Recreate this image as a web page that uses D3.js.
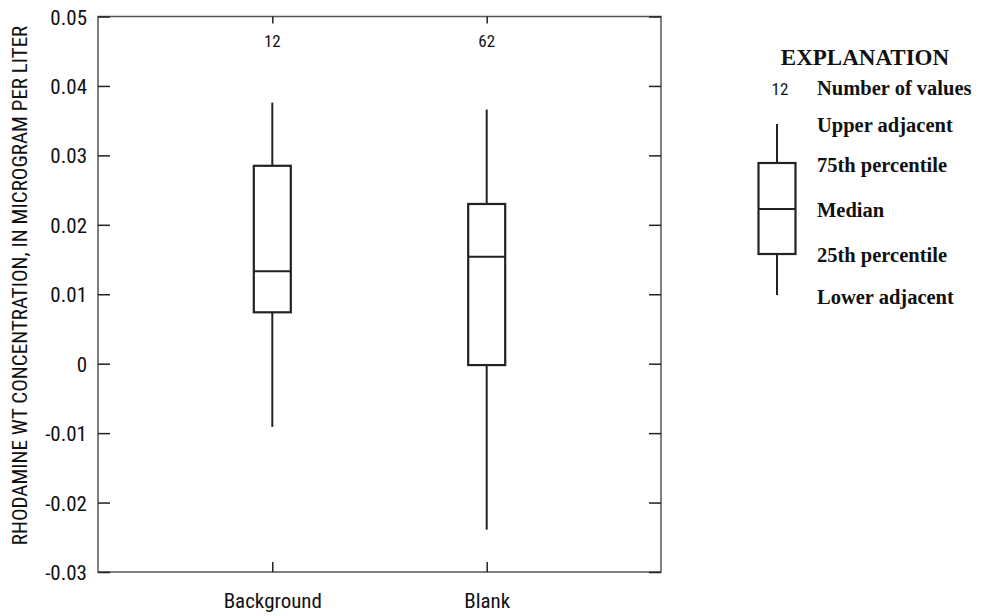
<!DOCTYPE html>
<html><head><meta charset="utf-8">
<script src="https://cdn.jsdelivr.net/npm/d3@7"></script>
<style>
body{margin:0;background:#fff;}
svg{display:block;}
.sans{font-family:"Liberation Sans Narrow","Arial Narrow","Roboto Condensed","Liberation Sans",sans-serif;}
.serif{font-family:"Liberation Serif","Times New Roman",serif;font-weight:bold;}
</style></head>
<body><svg id="c" width="982" height="616"></svg>
<script>
const categories = ["Background", "Blank"];
const counts = [12, 62];
const lowerAdj = [-0.0091, -0.0239];
const q1 = [0.0074, -0.0002];
const median = [0.0133, 0.0154];
const q3 = [0.0285, 0.0230];
const upperAdj = [0.0376, 0.0366];
const yTicks = [-0.03, -0.02, -0.01, 0, 0.01, 0.02, 0.03, 0.04, 0.05];
const yTickLabels = ["-0.03","-0.02","-0.01","0","0.01","0.02","0.03","0.04","0.05"];
const yTitle = "RHODAMINE WT CONCENTRATION, IN MICROGRAM PER LITER";
const legendTitle = "EXPLANATION";
const legendLabels = ["Number of values","Upper adjacent","75th percentile","Median","25th percentile","Lower adjacent"];

const svg = d3.select("#c");
const L = 98, R = 661, T = 16.5, B = 572;
const ink = "#222", frame = "#555";

const y = d3.scaleLinear().domain([-0.03, 0.05]).range([B, T]);
const x = d3.scalePoint().domain(categories).range([L, R]).padding(0.813);
const boxW = 37;

// frame
svg.append("rect").attr("x", L).attr("y", T).attr("width", R - L).attr("height", B - T)
  .attr("fill", "none").attr("stroke", frame).attr("stroke-width", 1.5);

// left axis
const yAxisL = d3.axisLeft(y).tickValues(yTicks).tickSize(-12)
  .tickFormat((d, i) => yTickLabels[i]);
const gL = svg.append("g").attr("transform", `translate(${L},0)`).call(yAxisL);
gL.select(".domain").remove();
gL.selectAll(".tick line").attr("stroke", ink).attr("stroke-width", 1.5);
gL.selectAll(".tick text").attr("class", "sans").attr("font-size", 21).attr("fill", "#111").attr("x", -11).attr("dy", "0.36em");

// right axis ticks
const gR = svg.append("g").attr("transform", `translate(${R},0)`)
  .call(d3.axisRight(y).tickValues(yTicks).tickSize(-12).tickFormat(""));
gR.select(".domain").remove();
gR.selectAll(".tick line").attr("stroke", ink).attr("stroke-width", 1.5);

// bottom axis
const gB = svg.append("g").attr("transform", `translate(0,${B})`)
  .call(d3.axisBottom(x).tickSize(-10));
gB.select(".domain").remove();
gB.selectAll(".tick line").attr("stroke", ink).attr("stroke-width", 1.5);
gB.selectAll(".tick text").attr("class", "sans").attr("font-size", 21).attr("fill", "#111")
  .attr("y", 36).attr("dy", 0);

// top axis ticks
const gT = svg.append("g").attr("transform", `translate(0,${T})`)
  .call(d3.axisTop(x).tickSize(-7).tickFormat(""));
gT.select(".domain").remove();
gT.selectAll(".tick line").attr("stroke", ink).attr("stroke-width", 1.5);

// y title
svg.append("text").attr("class", "sans").attr("font-size", 21).attr("fill", "#111")
  .attr("text-anchor", "middle")
  .attr("transform", `translate(27,285.5) rotate(-90)`)
  .text(yTitle);

// boxes
const data = categories.map((c, i) => ({c, n: counts[i], lo: lowerAdj[i], q1: q1[i], med: median[i], q3: q3[i], hi: upperAdj[i]}));
const g = svg.append("g").selectAll("g").data(data).join("g");
g.append("line").attr("x1", d => x(d.c)).attr("x2", d => x(d.c))
  .attr("y1", d => y(d.hi)).attr("y2", d => y(d.q3)).attr("stroke", ink).attr("stroke-width", 2);
g.append("line").attr("x1", d => x(d.c)).attr("x2", d => x(d.c))
  .attr("y1", d => y(d.q1)).attr("y2", d => y(d.lo)).attr("stroke", ink).attr("stroke-width", 2);
g.append("rect").attr("x", d => x(d.c) - boxW / 2).attr("width", boxW)
  .attr("y", d => y(d.q3)).attr("height", d => y(d.q1) - y(d.q3))
  .attr("fill", "none").attr("stroke", ink).attr("stroke-width", 2.2);
g.append("line").attr("x1", d => x(d.c) - boxW / 2).attr("x2", d => x(d.c) + boxW / 2)
  .attr("y1", d => y(d.med)).attr("y2", d => y(d.med)).attr("stroke", ink).attr("stroke-width", 2);
g.append("text").attr("class", "sans").attr("font-size", 17).attr("fill", "#111")
  .attr("text-anchor", "middle").attr("x", d => x(d.c)).attr("y", 47).text(d => d.n);

// legend
const lg = svg.append("g");
lg.append("text").attr("class", "serif").attr("font-size", 23).attr("fill", "#111")
  .attr("text-anchor", "middle").attr("x", 865).attr("y", 65).text(legendTitle);
const rowY = [88, 125, 165, 210, 255, 297];
lg.selectAll("text.lab").data(legendLabels).join("text").attr("class", "serif lab")
  .attr("font-size", 20.5).attr("fill", "#111").attr("x", 817).attr("y", (d, i) => rowY[i] + 6.5).text(d => d);
const lx = 777, lw = 37;
lg.append("text").attr("class", "sans").attr("font-size", 17).attr("fill", "#111")
  .attr("text-anchor", "middle").attr("x", 780).attr("y", 94.5).text(counts[0]);
lg.append("line").attr("x1", lx).attr("x2", lx).attr("y1", 124).attr("y2", 163).attr("stroke", ink).attr("stroke-width", 2);
lg.append("line").attr("x1", lx).attr("x2", lx).attr("y1", 254).attr("y2", 295).attr("stroke", ink).attr("stroke-width", 2);
lg.append("rect").attr("x", lx - lw / 2).attr("y", 163).attr("width", lw).attr("height", 91)
  .attr("fill", "none").attr("stroke", ink).attr("stroke-width", 2.2);
lg.append("line").attr("x1", lx - lw / 2).attr("x2", lx + lw / 2).attr("y1", 209).attr("y2", 209).attr("stroke", ink).attr("stroke-width", 2);
</script></body></html>
